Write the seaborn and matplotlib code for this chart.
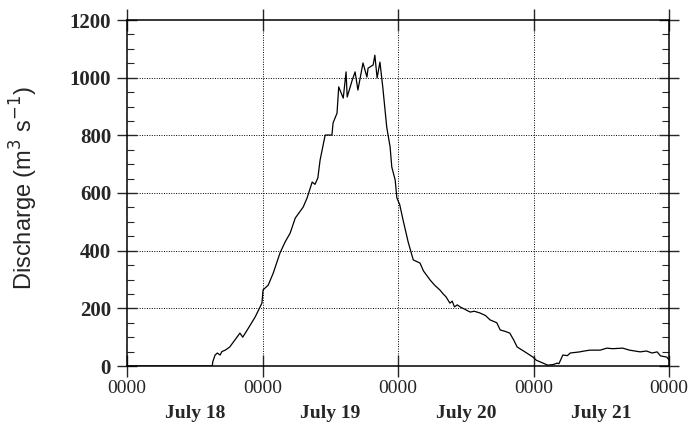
import matplotlib
matplotlib.use("Agg")
import matplotlib.pyplot as plt
import seaborn as sns
import numpy as np
from matplotlib.ticker import FixedLocator, MultipleLocator

# hours since July 18 0000
hours = [0, 15.1, 15.2, 15.6, 16.0, 16.5, 16.8, 17.4, 18.2, 19.1, 20.0, 20.5, 21.3, 22.7,
         23.9, 24.1, 25.0, 25.9, 27.1, 28.0, 28.9, 29.8, 31.2, 31.9, 32.8, 33.3, 33.8,
         34.2, 35.1, 36.3, 36.5, 37.2, 37.5, 38.3, 38.8, 39.0, 39.9, 40.4, 40.9, 41.8,
         42.5, 42.7, 43.6, 43.9, 44.3, 44.8, 45.3, 46.0, 46.6, 46.9, 47.5, 47.8, 48.3,
         48.9, 49.8, 50.7, 51.9, 52.5, 53.7, 54.5, 55.4, 56.0, 56.5, 57.2, 57.6, 58.0,
         58.5, 59.0, 60.0, 60.8, 61.5, 62.5, 63.5, 64.3, 65.5, 66.1, 67.0, 67.8, 68.5,
         69.1, 70.0, 70.8, 71.9, 72.5, 73.7, 74.5, 75.5, 76.2, 76.5, 77.2, 78.0, 78.5,
         80.2, 81.0, 82.0, 83.8, 85.0, 86.0, 87.8, 89.0, 90.9, 92.0, 93.0, 93.9, 94.5,
         95.6, 96.0]
discharge = [0, 0, 15, 38, 45, 38, 50, 55, 66, 90, 114, 100, 125, 170,
             218, 264, 280, 322, 392, 430, 461, 513, 551, 583, 638, 630, 652,
             714, 801, 801, 843, 877, 968, 929, 1020, 933, 992, 1020, 957, 1051,
             1002, 1033, 1044, 1078, 999, 1054, 968, 829, 760, 690, 645, 583, 560,
             506, 430, 368, 357, 330, 298, 280, 264, 250, 240, 218, 225, 205,
             212, 205, 195, 187, 190, 184, 175, 160, 150, 125, 120, 114, 90,
             66, 55, 45, 31, 20, 10, 3, 5, 10, 8, 38, 36, 45,
             49, 52, 55, 55, 62, 60, 62, 55, 49, 52, 45, 49, 35,
             31, 21]

day_ticks = [0, 24, 48, 72, 96]
day_tick_labels = ["0000", "0000", "0000", "0000", "0000"]
day_names = ["July 18", "July 19", "July 20", "July 21"]
y_ticks = [0, 200, 400, 600, 800, 1000, 1200]

sns.set_style("ticks")
fig = plt.figure(figsize=(6.92, 4.26), dpi=100)
ax = fig.add_axes([127/692, 60/426, (669-127)/692, (366-20)/426])

sns.lineplot(x=hours, y=discharge, ax=ax, color="black", linewidth=0.9,
             estimator=None, sort=False)

ax.set_xlim(0, 96)
ax.set_ylim(0, 1200)

# grid
for yv in y_ticks[1:-1]:
    ax.axhline(yv, color="black", linestyle=(0, (1, 1.5)), linewidth=0.7, zorder=0)
for xv in day_ticks[1:-1]:
    ax.axvline(xv, color="black", linestyle=(0, (1, 1.5)), linewidth=0.7, zorder=0)

for s in ax.spines.values():
    s.set_visible(True)
    s.set_color("black")
    s.set_linewidth(1.1)

ax.set_xticks(day_ticks)
ax.set_xticklabels(day_tick_labels, fontfamily="Liberation Serif", fontsize=14)
ax.xaxis.set_minor_locator(FixedLocator([12, 36, 60, 84]))
ax.set_xticklabels(day_names, minor=True, fontfamily="Liberation Serif",
                   fontsize=14, fontweight="bold")
ax.tick_params(axis="x", which="major", direction="inout", length=16, width=1,
               top=True, bottom=True, pad=2)
ax.tick_params(axis="x", which="minor", length=0, pad=28, top=False)

ax.set_yticks(y_ticks)
ax.set_yticklabels([str(v) for v in y_ticks], fontfamily="Liberation Serif",
                   fontsize=15, fontweight="bold")
ax.yaxis.set_minor_locator(MultipleLocator(50))
ax.tick_params(axis="y", which="major", direction="inout", length=15, width=1,
               left=True, right=True, pad=4)
ax.tick_params(axis="y", which="minor", direction="in", length=5, width=0.8,
               left=True, right=True)

ax.set_xlabel("")
ax.set_ylabel("Discharge (m$^3$ s$^{-1}$)", fontfamily="Liberation Sans",
              fontsize=17)
ax.yaxis.set_label_coords(-0.16, 0.514)

fig.savefig("out.png", dpi=100)
